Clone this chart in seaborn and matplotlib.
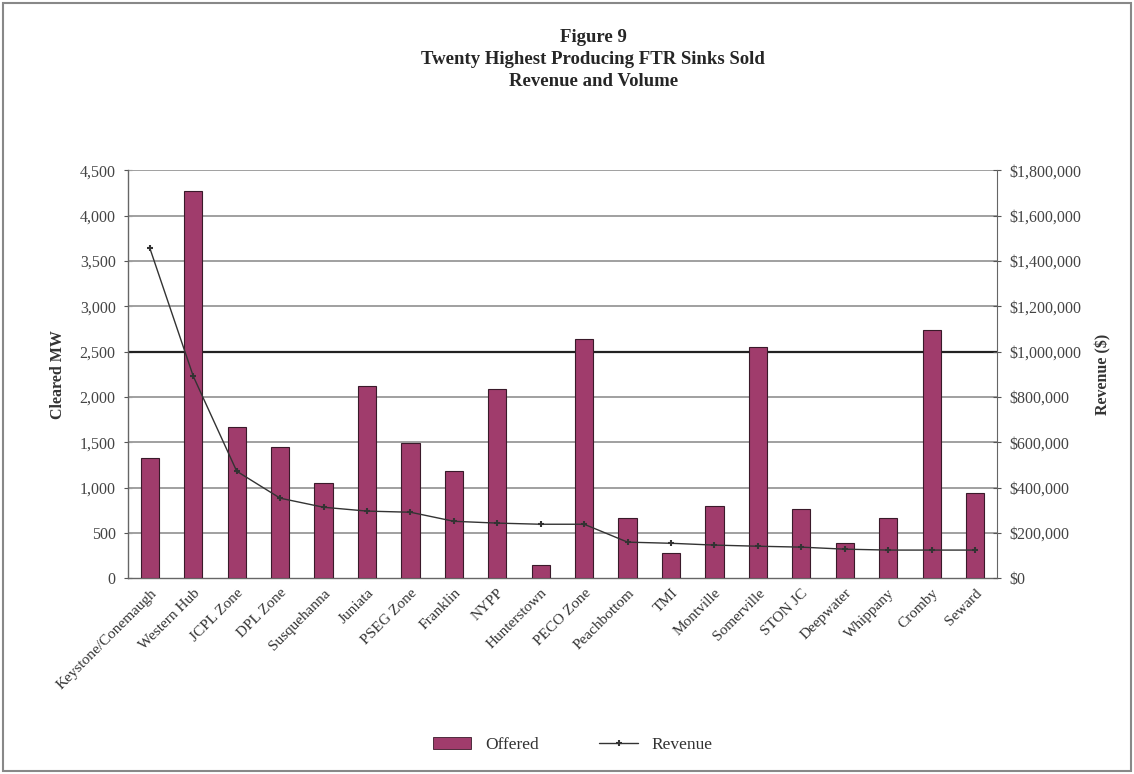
import matplotlib
matplotlib.use('Agg')
import matplotlib.pyplot as plt
import matplotlib.ticker as mticker
from matplotlib.patches import Rectangle
from matplotlib.lines import Line2D
import seaborn as sns
import pandas as pd

sinks = ['Keystone/Conemaugh', 'Western Hub', 'JCPL Zone', 'DPL Zone', 'Susquehanna',
         'Juniata', 'PSEG Zone', 'Franklin', 'NYPP', 'Hunterstown', 'PECO Zone',
         'Peachbottom', 'TMI', 'Montville', 'Somerville', 'STON JC', 'Deepwater',
         'Whippany', 'Cromby', 'Seward']
cleared_mw = [1330, 4270, 1665, 1444, 1047, 2117, 1488, 1180, 2084, 143, 2635,
              662, 276, 794, 2547, 761, 386, 662, 2734, 937]
revenue = [1456000, 891000, 472000, 353000, 313000, 296000, 291000, 251000, 243000,
           238000, 238000, 159000, 154000, 146000, 141000, 137000, 128000, 124000,
           124000, 124000]

df = pd.DataFrame({'sink': sinks, 'mw': cleared_mw, 'revenue': revenue})

sns.set_style('white')
plt.rcParams['font.family'] = ['Liberation Serif', 'DejaVu Serif']

fig = plt.figure(figsize=(11.34, 7.74), dpi=100)
ax = fig.add_axes([0.113, 0.253, 0.766, 0.527])

bar_color = '#a03c6c'
sns.barplot(data=df, x='sink', y='mw', color=bar_color, width=0.42,
            edgecolor='#3a1a2a', linewidth=0.8, saturation=1, ax=ax, zorder=3)

ax.set_ylim(0, 4500)
ax.set_xlim(-0.5, len(sinks) - 0.5)
ax.yaxis.set_major_locator(mticker.MultipleLocator(500))
ax.yaxis.set_major_formatter(mticker.StrMethodFormatter('{x:,.0f}'))
for v in range(500, 4501, 500):
    ax.axhline(v, color='#222222' if v == 2500 else '#a0a0a0',
               lw=1.6 if v == 2500 else 1.4, zorder=1)

# category ticks sit between bars, labels centred under bars
ax.set_xticks([i - 0.5 for i in range(len(sinks) + 1)], minor=False)
ax.set_xticklabels([])
ax.set_xticks(range(len(sinks)), minor=True)
ax.set_xticklabels(sinks, minor=True, rotation=45, ha='right', rotation_mode='anchor',
                   fontsize=11, color='#333333')
ax.tick_params(axis='x', which='minor', length=0, pad=6)
ax.tick_params(axis='x', which='major', length=5, direction='inout', color='#555555')
ax.tick_params(axis='y', length=6, direction='inout', color='#555555',
               labelsize=11.5, labelcolor='#444444', pad=6)
ax.set_xlabel('')
ax.set_ylabel('Cleared MW', fontsize=11.5, fontweight='bold', color='#333333', labelpad=10)

for side in ['top', 'right']:
    ax.spines[side].set_visible(False)
for side in ['left', 'bottom']:
    ax.spines[side].set_color('#666666')
    ax.spines[side].set_linewidth(1.0)

ax2 = ax.twinx()
ax2.plot(range(len(sinks)), df['revenue'], color='#333333', lw=1.0,
         marker='+', markersize=4, markeredgewidth=1.5, zorder=4)
ax2.set_ylim(0, 1800000)
ax2.yaxis.set_major_locator(mticker.MultipleLocator(200000))
ax2.yaxis.set_major_formatter(mticker.StrMethodFormatter('${x:,.0f}'))
ax2.tick_params(axis='y', length=6, direction='inout', color='#555555',
                labelsize=11.5, labelcolor='#444444', pad=6)
ax2.set_ylabel('Revenue ($)', fontsize=11.5, fontweight='bold', color='#333333', labelpad=10)
for side in ['top', 'left', 'bottom']:
    ax2.spines[side].set_visible(False)
ax2.spines['right'].set_color('#666666')

handles = [Rectangle((0, 0), 1, 1, facecolor=bar_color, edgecolor='#3a1a2a', lw=0.6),
           Line2D([], [], color='#333333', lw=1.0, marker='+', markersize=4, markeredgewidth=1.5)]
fig.legend(handles, ['Offered', 'Revenue'], loc='center', bbox_to_anchor=(0.505, 0.038),
           ncol=2, frameon=False, fontsize=12.5, handlelength=2.2, columnspacing=3.5,
           labelcolor='#333333')

fig.text(0.523, 0.951, 'Figure 9', ha='center', va='center', fontsize=13.5, fontweight='bold')
fig.text(0.523, 0.923, 'Twenty Highest Producing FTR Sinks Sold', ha='center', va='center',
         fontsize=13.5, fontweight='bold')
fig.text(0.523, 0.895, 'Revenue and Volume', ha='center', va='center', fontsize=13.5,
         fontweight='bold')

fig.patches.append(Rectangle((0.003, 0.004), 0.994, 0.992, transform=fig.transFigure,
                             fill=False, edgecolor='#888888', lw=1.5))

fig.savefig('out.png', dpi=100, facecolor='white')
